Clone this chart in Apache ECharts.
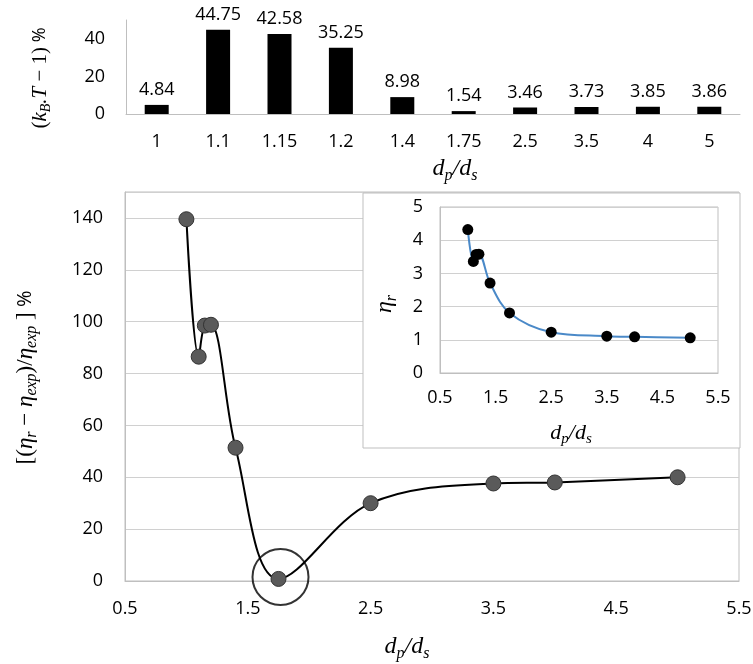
<!DOCTYPE html>
<html>
<head>
<meta charset="utf-8">
<script src="https://cdn.jsdelivr.net/npm/echarts@6/dist/echarts.min.js"></script>
<style>
  html, body { margin: 0; padding: 0; background: #fff; }
  #chart { width: 753px; height: 664px; }
</style>
</head>
<body>
<div id="chart"></div>
<script>
// Particle-to-solvent size ratio d_p/d_s used in every panel
const ratioLabels = ['1', '1.1', '1.15', '1.2', '1.4', '1.75', '2.5', '3.5', '4', '5'];
const ratioValues = [1, 1.1, 1.15, 1.2, 1.4, 1.75, 2.5, 3.5, 4, 5];

// (k_B·T − 1) % for each size ratio (bar panel)
const kbtDeviation = [4.84, 44.75, 42.58, 35.25, 8.98, 1.54, 3.46, 3.73, 3.85, 3.86];

// Relative error of the predicted viscosity, % (main panel)
const viscosityError = [139.5, 86.5, 98.5, 98.8, 51.4, 0.8, 30, 37.6, 38, 40];

// Relative viscosity eta_r (inset)
const relativeViscosity = [4.32, 3.36, 3.57, 3.58, 2.71, 1.81, 1.23, 1.11, 1.09, 1.06];

const LABEL_FONT = 'Open Sans';
const MATH_FONT = 'Liberation Serif';
const GRID_GRAY = '#d0d0d0';
const AXIS_GRAY = '#bfbfbf';

// Rich-text styles for the math-style axis titles (subscripts sit low on the line)
function mathRich(size) {
  const lh = Math.round(size * 1.25);
  const sub = Math.round(size * 0.68);
  return {
    i: { fontFamily: MATH_FONT, fontStyle: 'italic', fontSize: size, lineHeight: lh, color: '#000' },
    u: { fontFamily: MATH_FONT, fontSize: size, lineHeight: lh, color: '#000' },
    s: { fontFamily: MATH_FONT, fontStyle: 'italic', fontSize: sub,
         lineHeight: Math.round(sub * 0.45), verticalAlign: 'bottom', color: '#000' },
    p: { fontFamily: LABEL_FONT, fontSize: Math.round(size * 0.85), lineHeight: lh, color: '#000' }
  };
}

const ratioTitle = '{i|d}{s|p}{i|/d}{s|s}';
const pairs = (xs, ys) => xs.map((x, k) => [x, ys[k]]);
const minIdx = viscosityError.indexOf(Math.min(...viscosityError));

const labelStyle = { fontFamily: LABEL_FONT, fontSize: 18, color: '#000' };

const chart = echarts.init(document.getElementById('chart'), null, { renderer: 'canvas' });

chart.setOption({
  animation: false,
  backgroundColor: '#fff',
  grid: [
    { left: 126, right: 13, top: 20, height: 94, outerBoundsMode: 'none', containLabel: false },
    { left: 125, right: 14, top: 192, height: 389, outerBoundsMode: 'none', containLabel: false,
      show: true, borderColor: AXIS_GRAY, borderWidth: 1 },
    { left: 440, right: 35, top: 207, height: 166, outerBoundsMode: 'none', containLabel: false,
      show: true, borderColor: AXIS_GRAY, borderWidth: 1, z: 4 }
  ],
  graphic: [
    {
      type: 'rect', z: 3, silent: true,
      shape: { x: 363, y: 193, width: 377, height: 255 },
      style: { fill: '#fff', stroke: AXIS_GRAY, lineWidth: 1 }
    }
  ],
  xAxis: [
    {
      gridIndex: 0, type: 'category', data: ratioLabels,
      axisLine: { show: true, lineStyle: { color: AXIS_GRAY } },
      axisTick: { show: false },
      axisLabel: Object.assign({ margin: 19 }, labelStyle),
      name: ratioTitle, nameLocation: 'middle', nameGap: 40,
      nameTextStyle: { rich: mathRich(24), padding: [0, 0, 0, 44] }
    },
    {
      gridIndex: 1, type: 'value', min: 0.5, max: 5.5, interval: 1,
      axisLine: { show: true, lineStyle: { color: AXIS_GRAY } },
      axisTick: { show: false },
      splitLine: { show: false },
      axisLabel: Object.assign({ margin: 19 }, labelStyle),
      name: ratioTitle, nameLocation: 'middle', nameGap: 51,
      nameTextStyle: { rich: mathRich(24), padding: [0, 50, 0, 0] }
    },
    {
      gridIndex: 2, type: 'value', min: 0.5, max: 5.5, interval: 1, z: 4,
      axisLine: { show: true, lineStyle: { color: AXIS_GRAY } },
      axisTick: { show: false },
      splitLine: { show: false },
      axisLabel: Object.assign({ margin: 16 }, labelStyle),
      name: ratioTitle, nameLocation: 'middle', nameGap: 46,
      nameTextStyle: { rich: mathRich(22), padding: [0, 16, 0, 0] }
    }
  ],
  yAxis: [
    {
      gridIndex: 0, type: 'value', min: 0, max: 50, interval: 20,
      axisLine: { show: true, lineStyle: { color: AXIS_GRAY } },
      axisTick: { show: false },
      splitLine: { show: false },
      axisLabel: Object.assign({ margin: 21, showMaxLabel: false }, labelStyle),
      name: '{u|(}{i|k}{s|B}{i|.T}{u| − 1)}{p| %}', nameLocation: 'middle', nameGap: 73,
      nameTextStyle: { rich: mathRich(21), padding: [0, 22, 0, 0] }
    },
    {
      gridIndex: 1, type: 'value', min: 0, max: 150, interval: 20,
      axisLine: { show: true, lineStyle: { color: AXIS_GRAY } },
      axisTick: { show: false },
      splitLine: { show: true, lineStyle: { color: GRID_GRAY } },
      axisLabel: Object.assign({ margin: 22, showMaxLabel: false }, labelStyle),
      name: '{u|[(}{i|η}{s|r}{u| − }{i|η}{s|exp}{u|)/}{i|η}{s|exp}{u| ]}{p| %}',
      nameLocation: 'middle', nameGap: 85,
      nameTextStyle: { rich: mathRich(23), padding: [0, 0, 0, 18] }
    },
    {
      gridIndex: 2, type: 'value', min: 0, max: 5, interval: 1, z: 4,
      axisLine: { show: true, lineStyle: { color: AXIS_GRAY } },
      axisTick: { show: false },
      splitLine: { show: true, lineStyle: { color: GRID_GRAY } },
      axisLabel: Object.assign({ margin: 17 }, labelStyle),
      name: '{i|η}{s|r}', nameLocation: 'middle', nameGap: 40,
      nameTextStyle: { rich: mathRich(24), padding: [0, 28, 0, 0] }
    }
  ],
  series: [
    {
      name: 'kBT deviation', type: 'bar', xAxisIndex: 0, yAxisIndex: 0,
      data: kbtDeviation, barWidth: 24,
      itemStyle: { color: '#000' },
      label: { show: true, position: 'top', distance: 6, fontFamily: LABEL_FONT, fontSize: 18, color: '#000' }
    },
    {
      name: 'minimum marker', type: 'scatter', xAxisIndex: 1, yAxisIndex: 1, silent: true, z: 1,
      data: [[ratioValues[minIdx], viscosityError[minIdx]]],
      symbol: 'circle', symbolSize: 56, symbolOffset: [2, -2],
      itemStyle: { color: 'rgba(0,0,0,0)', borderColor: '#000', borderWidth: 2 }
    },
    {
      name: 'viscosity error', type: 'line', xAxisIndex: 1, yAxisIndex: 1,
      data: pairs(ratioValues, viscosityError), smooth: 0.35,
      symbol: 'circle', symbolSize: 15,
      lineStyle: { color: '#000', width: 2 },
      itemStyle: { color: '#5a5a5a', borderColor: '#333', borderWidth: 1 }
    },
    {
      name: 'relative viscosity', type: 'line', xAxisIndex: 2, yAxisIndex: 2, z: 5,
      data: pairs(ratioValues, relativeViscosity), smooth: 0.35,
      symbol: 'circle', symbolSize: 11,
      lineStyle: { color: '#4a89c8', width: 2 },
      itemStyle: { color: '#000', borderColor: '#000', borderWidth: 0 }
    }
  ]
});
</script>
</body>
</html>
